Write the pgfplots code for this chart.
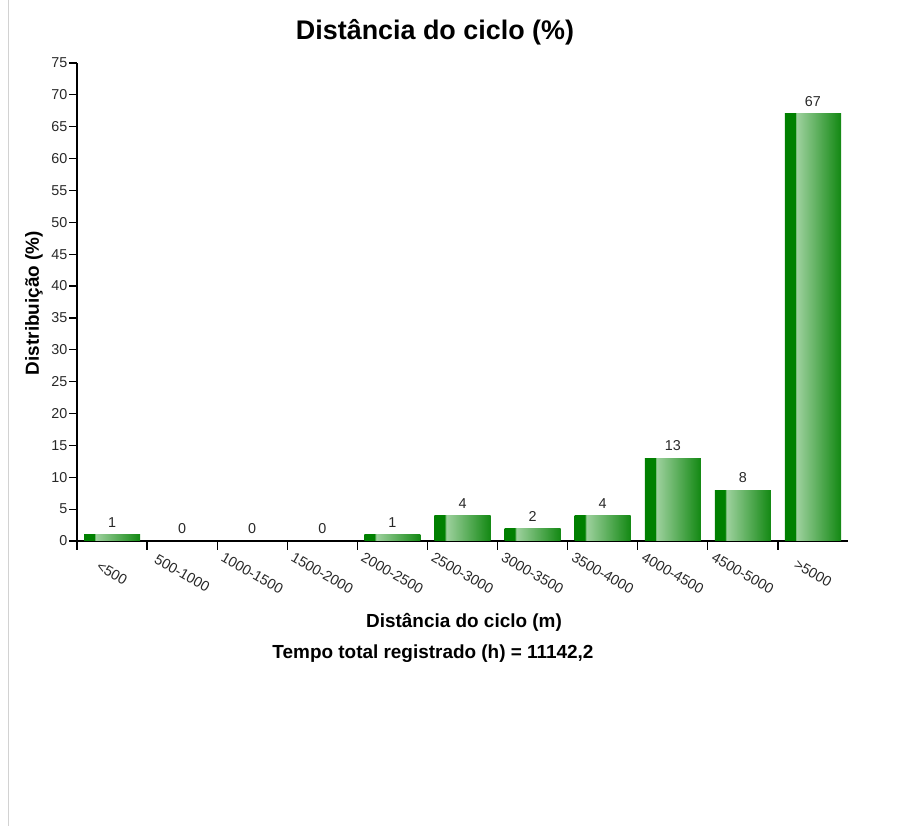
\documentclass[border=0pt]{standalone}
\usepackage{pgfplots}
\usepackage{pgfplotstable}
\pgfplotsset{compat=1.18}
\usepackage{fontspec}
\setmainfont{Liberation Sans}

\definecolor{bardark}{RGB}{0,128,0}
\definecolor{barlight}{RGB}{160,210,160}
\definecolor{barend}{RGB}{22,138,22}
\definecolor{txt}{RGB}{40,40,40}
\definecolor{edge}{RGB}{210,210,210}
% middle 50bp of the shading covers the bar
\pgfdeclarehorizontalshading{bargrad}{100bp}{color(0bp)=(bardark); color(25bp)=(bardark); color(34.5bp)=(bardark); color(35bp)=(barlight); color(74bp)=(barend); color(100bp)=(barend)}

\pgfplotstableread{
x y
0 1
1 0
2 0
3 0
4 1
5 4
6 2
7 4
8 13
9 8
10 67
}\dist

\begin{document}
\begin{tikzpicture}[x=1bp,y=1bp]
\useasboundingbox (0,0) rectangle (910,826);
\draw[edge, line width=1bp] (8,0) -- (8,826);

\begin{axis}[
  at={(77bp,285bp)}, anchor=south west,
  scale only axis, width=771bp, height=478bp,
  xmin=-0.5, xmax=10.5, ymin=0, ymax=75,
  axis x line*=bottom, axis y line*=left,
  axis line style={-, line width=1.6bp, black},
  tick align=outside, tick pos=left,
  major tick length=8bp, minor tick length=9bp,
  tick style={black, line width=1.2bp},
  ytick={0,5,...,75},
  yticklabel style={font=\fontsize{14.4}{16}\selectfont, color=txt, inner sep=1.5bp},
  /pgf/number format/assume math mode=true,
  xtick={0,1,...,10},
  xticklabels={{<500},{500-1000},{1000-1500},{1500-2000},{2000-2500},{2500-3000},{3000-3500},{3500-4000},{4000-4500},{4500-5000},{>5000}},
  major x tick style={draw=none},
  minor xtick={-0.5,0.5,...,9.5},
  xticklabel style={yshift=-24bp, rotate=-30, anchor=center,
      font=\fontsize{14.4}{16}\selectfont, color=txt},
]
\pgfplotsinvokeforeach{0,...,10}{
\addplot[ybar, bar shift=0pt, bar width=0.8, draw=none, shade, shading=bargrad,
  restrict x to domain=#1:#1,
  nodes near coords,
  every node near coord/.append style={font=\fontsize{14.4}{16}\selectfont, color=txt, inner sep=0pt, yshift=7bp}]
  table[x=x, y=y] {\dist};
}
\end{axis}

\node[font=\bfseries\fontsize{27}{32}\selectfont, anchor=base] at (435,786) {Distância do ciclo (\%)};
\node[font=\bfseries\fontsize{19}{22}\selectfont, anchor=base] at (464,198) {Distância do ciclo (m)};
\node[font=\bfseries\fontsize{19}{22}\selectfont, anchor=base] at (433,167) {Tempo total registrado (h) = 11142,2};
\node[font=\bfseries\fontsize{19}{22}\selectfont, rotate=90, anchor=center] at (34,523) {Distribuição (\%)};
\end{tikzpicture}
\end{document}
